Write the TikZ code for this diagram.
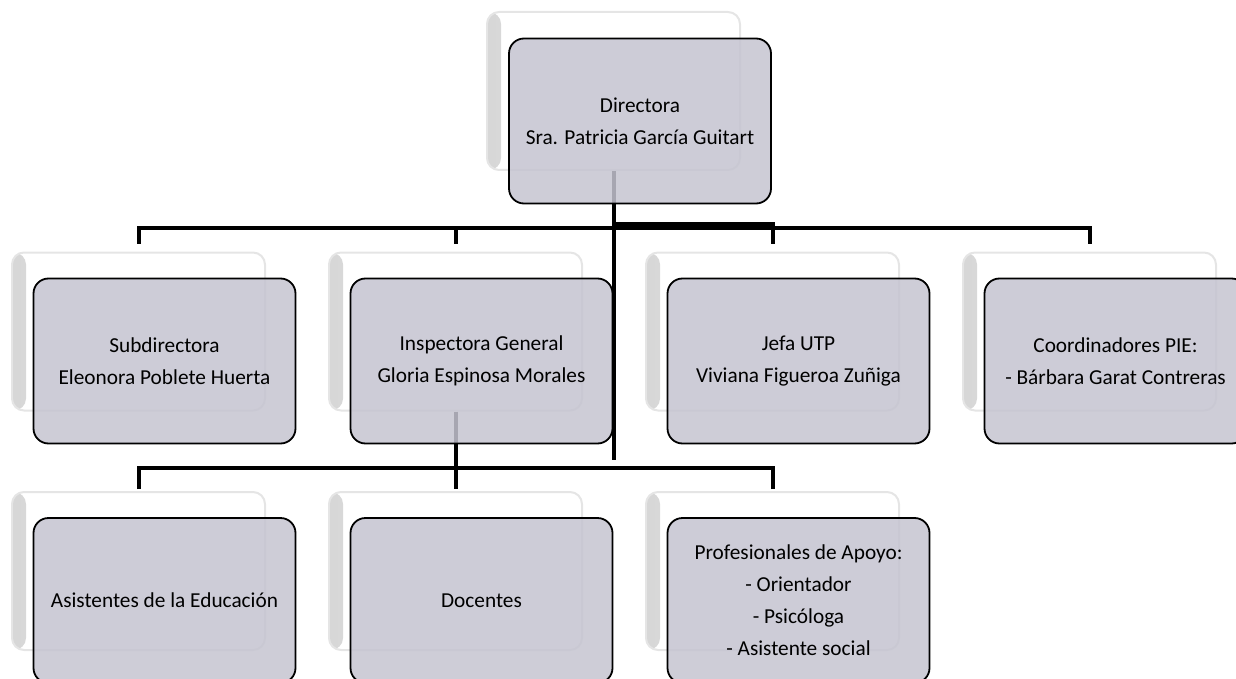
\documentclass[tikz,border=0pt]{standalone}
\usepackage{fontspec}
\setmainfont{Carlito}
\usetikzlibrary{calc}
\definecolor{boxfill}{RGB}{197,196,208}

\begin{document}
\begin{tikzpicture}[x=1pt,y=-1pt,
  backbox/.style={draw=black!10, line width=2pt, fill=white, rounded corners=12pt,
    minimum width=253pt, minimum height=158pt,
    path picture={\shade[left color=black!16, right color=white]
      (path picture bounding box.south west) rectangle ([xshift=14pt]path picture bounding box.north west);}},
  frontbox/.style={draw=black, line width=1.8pt, fill=boxfill, fill opacity=0.85, text opacity=1,
    rounded corners=15pt, minimum width=262pt, minimum height=165pt, align=center,
    font=\fontsize{21.3}{32}\selectfont},
  conn/.style={line width=4pt}]
  %%%%% START %%%%%
  \useasboundingbox (0,0) rectangle (1236,679);

  % back boxes
  \node[backbox] (bdir) at (613.5,91) {};
  \node[backbox] (bsub) at (138.5,331.5) {};
  \node[backbox] (bins) at (455.5,331.5) {};
  \node[backbox] (butp) at (772.5,331.5) {};
  \node[backbox] (bpie) at (1089.5,331.5) {};
  \node[backbox] (basis) at (138.5,571) {};
  \node[backbox] (bdoc) at (455.5,571) {};
  \node[backbox] (bprof) at (772.5,571) {};

  % connectors
  \coordinate (bus1) at (613.5,228);
  \coordinate (dirend) at (613.5,460);
  \coordinate (bus2) at (455.5,468);
  \draw[conn] (bdir.south) -- (dirend);
  \foreach \n in {sub,ins,utp,pie}
    \draw[conn, shorten <=8pt] (b\n.north) |- (bus1);
  \draw[conn] ($(bus1)+(0,-4)$) -| ([yshift=8pt]butp.north);
  \draw[conn] (bins.south) -- ([yshift=2pt]bdoc.north);
  \foreach \n in {asis,prof}
    \draw[conn, shorten <=2pt] (b\n.north) |- (bus2);

  % front boxes
  \node[frontbox] (dir) at (640,121) {Directora\\Sra. Patricia García Guitart};
  \node[frontbox] (sub) at (164.5,361) {Subdirectora\\Eleonora Poblete Huerta};
  \node[frontbox] (ins) at (481.5,361) {Inspectora General\\Gloria Espinosa Morales};
  \node[frontbox] (utp) at (798.5,361) {Jefa UTP\\Viviana Figueroa Zuñiga};
  \node[frontbox] (pie) at (1115.5,361) {Coordinadores PIE:\\- Bárbara Garat Contreras};
  \node[frontbox] (asis) at (164.5,600.5) {Asistentes de la Educación};
  \node[frontbox] (doc) at (481.5,600.5) {Docentes};
  \node[frontbox] (prof) at (798.5,600.5) {Profesionales de Apoyo:\\- Orientador\\- Psicóloga\\- Asistente social};
  %%%%% END %%%%%
\end{tikzpicture}
\end{document}
